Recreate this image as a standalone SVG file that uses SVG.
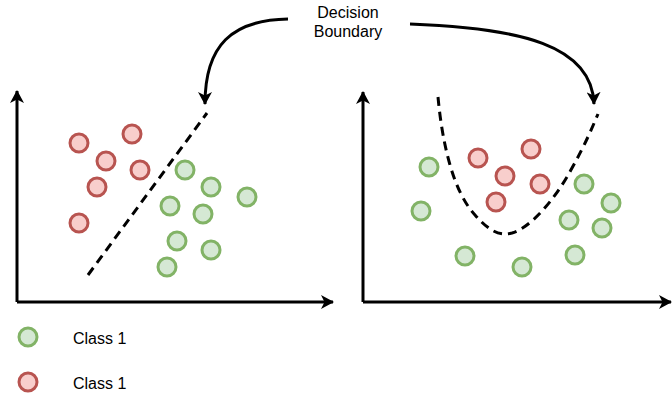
<svg xmlns="http://www.w3.org/2000/svg" width="672" height="397" viewBox="0 0 672 397">
  <style>
    .red { fill: #f8cecc; stroke: #b85450; stroke-width: 3; }
    .green { fill: #d5e8d4; stroke: #82b366; stroke-width: 3; }
    .axis { fill: none; stroke: #000; stroke-width: 3; marker-end: url(#head); }
    .bound { fill: none; stroke: #000; stroke-width: 3; stroke-dasharray: 9 6; }
    .pointer { fill: none; stroke: #000; stroke-width: 3; marker-end: url(#head); }
    text { font-family: "Liberation Sans", Arial, sans-serif; font-size: 16px; fill: #000; }
  </style>
  <defs>
    <marker id="head" viewBox="0 0 14 14" refX="12" refY="7" markerWidth="14" markerHeight="14" markerUnits="userSpaceOnUse" orient="auto">
      <path d="M0,0 L13,7 L0,14 L3.5,7 Z" fill="#000"/>
    </marker>
  </defs>
  <rect width="672" height="397" fill="#fff"/>

  <!-- axes -->
  <g id="axes">
    <path class="axis" d="M17,302 L17,91"/>
    <path class="axis" d="M17,302 L333,302"/>
    <path class="axis" d="M363,302 L363,92"/>
    <path class="axis" d="M363,302 L671,302"/>
  </g>

  <!-- linear boundary, left plot -->
  <g id="left-points">
    <circle class="red" cx="79" cy="143" r="9"/>
    <circle class="red" cx="132" cy="134" r="9"/>
    <circle class="red" cx="106" cy="161" r="9"/>
    <circle class="red" cx="140" cy="170" r="9"/>
    <circle class="red" cx="97" cy="187" r="9"/>
    <circle class="red" cx="79" cy="223" r="9"/>
    <circle class="green" cx="185" cy="170" r="9"/>
    <circle class="green" cx="211" cy="187" r="9"/>
    <circle class="green" cx="247" cy="197" r="9"/>
    <circle class="green" cx="170" cy="206" r="9"/>
    <circle class="green" cx="203" cy="214" r="9"/>
    <circle class="green" cx="177" cy="241" r="9"/>
    <circle class="green" cx="211" cy="250" r="9"/>
    <circle class="green" cx="167" cy="267" r="9"/>
  </g>

  <!-- curved boundary, right plot -->
  <g id="right-points">
    <circle class="red" cx="478" cy="158" r="9"/>
    <circle class="red" cx="531" cy="149" r="9"/>
    <circle class="red" cx="505" cy="176" r="9"/>
    <circle class="red" cx="540" cy="184" r="9"/>
    <circle class="red" cx="496" cy="202" r="9"/>
    <circle class="green" cx="429" cy="167" r="9"/>
    <circle class="green" cx="421" cy="211" r="9"/>
    <circle class="green" cx="584" cy="184" r="9"/>
    <circle class="green" cx="611" cy="203" r="9"/>
    <circle class="green" cx="569" cy="220" r="9"/>
    <circle class="green" cx="602" cy="228" r="9"/>
    <circle class="green" cx="465" cy="256" r="9"/>
    <circle class="green" cx="522" cy="267" r="9"/>
    <circle class="green" cx="575" cy="255" r="9"/>
  </g>

  <g id="connectors">
    <path class="bound" d="M88,275 L207,113"/>
    <path class="bound" d="M438,97 C442,140 452,190 475,215 C490,232 500,236 512,233 C530,228 555,200 572,168 C585,145 592,128 598,114"/>
    <path class="pointer" d="M288,19 C232,20 205,45 205,104"/>
    <path class="pointer" d="M410,24 C520,28 592,45 594,104"/>
  </g>

  <g id="label">
    <text x="348" y="18" text-anchor="middle">Decision</text>
    <text x="348" y="37" text-anchor="middle">Boundary</text>
  </g>

  <g id="legend">
    <circle class="green" cx="28" cy="337" r="9"/>
    <text x="73" y="344">Class 1</text>
    <circle class="red" cx="28" cy="382" r="9"/>
    <text x="73" y="389">Class 1</text>
  </g>
</svg>
